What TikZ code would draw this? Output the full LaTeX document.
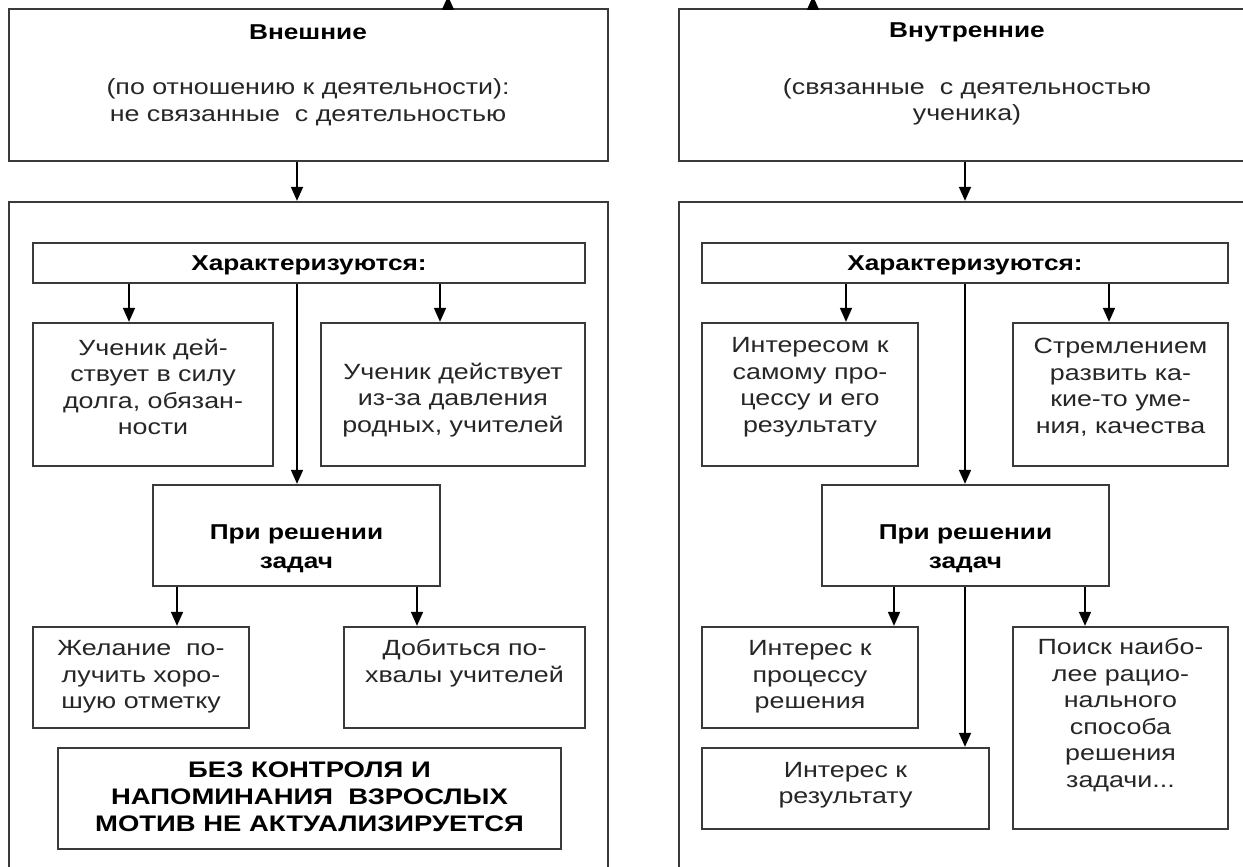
\documentclass[tikz,border=0pt]{standalone}
\usepackage{fontspec}
\setmainfont{Liberation Sans}[FakeStretch=1.22]
\usetikzlibrary{arrows.meta}
\definecolor{ln}{HTML}{3A3A3A}
\definecolor{tx}{HTML}{262626}
\begin{document}
\begin{tikzpicture}[x=1pt,y=-1pt,
  box/.style={draw=ln, line width=2.3pt, rectangle, inner sep=0pt},
  txt/.style={text=tx, align=center, inner sep=0pt, font=\fontsize{22}{26.5}\selectfont},
  btxt/.style={text=black, align=center, inner sep=0pt, font=\fontsize{21.5}{29}\selectfont\bfseries},
  arr/.style={draw=black, line width=1.7pt, -{Triangle[length=14pt,width=12pt]}}]
\useasboundingbox (0,0) rectangle (1243,867);
\clip (0,0) rectangle (1243,867);
\fill[white] (0,0) rectangle (1243,867);

% ---------- column x positions ----------
\coordinate (upL) at (448,-4);
\coordinate (upR) at (813,-4);
\coordinate (mL) at (297,0);
\coordinate (aL1) at (129,0);
\coordinate (aL2) at (440,0);
\coordinate (bL1) at (177,0);
\coordinate (bL2) at (417,0);
\coordinate (mR) at (965,0);
\coordinate (aR1) at (846,0);
\coordinate (aR2) at (1109,0);
\coordinate (bR1) at (894,0);
\coordinate (bR3) at (1085,0);

% ---------- left column ----------
\node[box, minimum width=599pt, minimum height=152pt] (topL) at (308.5,85) {};
\node[btxt] (topLt) at (308,32) {Внешние};
\node[txt] (topLs) at (308,102) {(по отношению к деятельности):\\не связанные \ с деятельностью};

\node[box, minimum width=599pt, minimum height=698pt] (bigL) at (308.5,551) {};

\node[box, minimum width=552pt, minimum height=40pt] (charL) at (309,263) {};
\node[btxt] (charLt) at (309,265) {Характеризуются:};

\node[box, minimum width=240pt, minimum height=143pt] (c1L) at (153,394.5) {};
\node[txt] (c1Lt) at (153,387) {Ученик дей-\\ствует в силу\\долга, обязан-\\ности};

\node[box, minimum width=264pt, minimum height=143pt] (c2L) at (453,394.5) {};
\node[txt] (c2Lt) at (453,400) {Ученик действует\\из-за давления\\родных, учителей};

\node[box, minimum width=287pt, minimum height=101pt] (prL) at (296.5,535.5) {};
\node[btxt] (prLt) at (296.5,549) {При решении\\задач};

\node[box, minimum width=216pt, minimum height=101pt] (d1L) at (141,677.5) {};
\node[txt] (d1Lt) at (141,677) {Желание \ по-\\лучить хоро-\\шую отметку};

\node[box, minimum width=241pt, minimum height=101pt] (d2L) at (464.5,677.5) {};
\node[txt] (d2Lt) at (464.5,663) {Добиться по-\\хвалы учителей};

\node[box, minimum width=503pt, minimum height=101pt] (capsL) at (309.5,798.5) {};
\node[btxt, font=\fontsize{22.5}{27}\selectfont\bfseries] (capsLt) at (309.5,797) {БЕЗ КОНТРОЛЯ И\\НАПОМИНАНИЯ \ ВЗРОСЛЫХ\\МОТИВ НЕ АКТУАЛИЗИРУЕТСЯ};

% left arrows
\draw[arr] (topL.north -| upL) -- (upL);
\draw[arr] (topL.south -| mL) -- (bigL.north -| mL);
\draw[arr] (charL.south -| aL1) -- (c1L.north -| aL1);
\draw[arr] (charL.south -| aL2) -- (c2L.north -| aL2);
\draw[arr] (charL.south -| mL) -- (prL.north -| mL);
\draw[arr] (prL.south -| bL1) -- (d1L.north -| bL1);
\draw[arr] (prL.south -| bL2) -- (d2L.north -| bL2);

% ---------- right column ----------
\node[box, minimum width=601pt, minimum height=152pt] (topR) at (979.5,85) {};
\node[btxt] (topRt) at (967,32) {Внутренние};
\node[txt] (topRs) at (967,102) {(связанные \ с деятельностью\\ученика)};

\node[box, minimum width=601pt, minimum height=698pt] (bigR) at (979.5,551) {};

\node[box, minimum width=526pt, minimum height=40pt] (charR) at (965,263) {};
\node[btxt] (charRt) at (965,265) {Характеризуются:};

\node[box, minimum width=216pt, minimum height=143pt] (c1R) at (810,394.5) {};
\node[txt] (c1Rt) at (810,387) {Интересом к\\самому про-\\цессу и его\\результату};

\node[box, minimum width=215pt, minimum height=143pt] (c2R) at (1120.5,394.5) {};
\node[txt] (c2Rt) at (1120.5,387) {Стремлением\\развить ка-\\кие-то уме-\\ния, качества};

\node[box, minimum width=287pt, minimum height=101pt] (prR) at (965.5,535.5) {};
\node[btxt] (prRt) at (965.5,549) {При решении\\задач};

\node[box, minimum width=216pt, minimum height=101pt] (d1R) at (810,677.5) {};
\node[txt] (d1Rt) at (810,677) {Интерес к\\процессу\\решения};

\node[box, minimum width=287pt, minimum height=81pt] (d2R) at (845.5,788.5) {};
\node[txt] (d2Rt) at (845.5,785) {Интерес к\\результату};

\node[box, minimum width=215pt, minimum height=202pt] (d3R) at (1120.5,728) {};
\node[txt] (d3Rt) at (1120.5,715) {Поиск наибо-\\лее рацио-\\нального\\способа\\решения\\задачи...};

% right arrows
\draw[arr] (topR.north -| upR) -- (upR);
\draw[arr] (topR.south -| mR) -- (bigR.north -| mR);
\draw[arr] (charR.south -| aR1) -- (c1R.north -| aR1);
\draw[arr] (charR.south -| aR2) -- (c2R.north -| aR2);
\draw[arr] (charR.south -| mR) -- (prR.north -| mR);
\draw[arr] (prR.south -| bR1) -- (d1R.north -| bR1);
\draw[arr] (prR.south -| mR) -- (d2R.north -| mR);
\draw[arr] (prR.south -| bR3) -- (d3R.north -| bR3);
\end{tikzpicture}
\end{document}
